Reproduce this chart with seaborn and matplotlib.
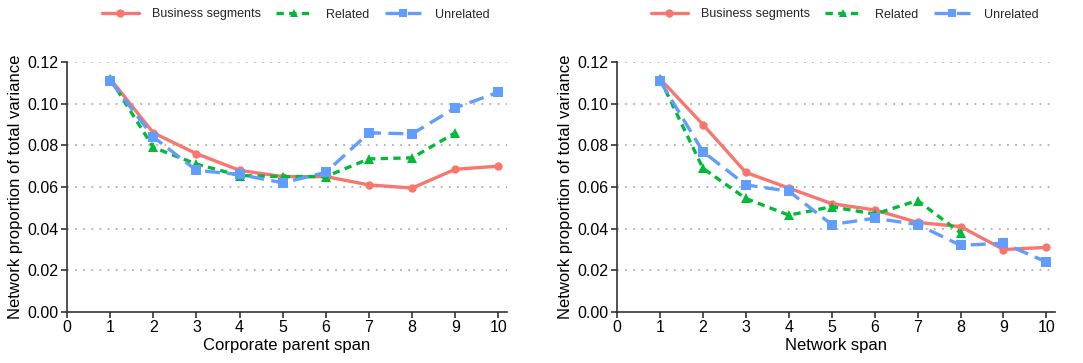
import numpy as np
import pandas as pd
import matplotlib
matplotlib.use("Agg")
import matplotlib.pyplot as plt
import seaborn as sns

span = [1, 2, 3, 4, 5, 6, 7, 8, 9, 10]

corp_business = [0.112, 0.086, 0.076, 0.068, 0.065, 0.065, 0.061, 0.0595, 0.0685, 0.070]
corp_related = [0.112, 0.079, 0.071, 0.0655, 0.065, 0.065, 0.0735, 0.074, 0.086, None]
corp_unrelated = [0.111, 0.084, 0.068, 0.066, 0.062, 0.067, 0.086, 0.0855, 0.098, 0.1055]

net_business = [0.112, 0.090, 0.067, 0.0595, 0.052, 0.049, 0.043, 0.041, 0.030, 0.031]
net_related = [0.112, 0.069, 0.0545, 0.0465, 0.0505, 0.047, 0.0535, 0.038, None, None]
net_unrelated = [0.111, 0.077, 0.061, 0.058, 0.042, 0.045, 0.042, 0.032, 0.033, 0.024]

series_names = ["Business segments", "Related", "Unrelated"]
y_ticks = [0.00, 0.02, 0.04, 0.06, 0.08, 0.10, 0.12]
x_ticks = [0, 1, 2, 3, 4, 5, 6, 7, 8, 9, 10]
x_labels = ["Corporate parent span", "Network span"]
y_label = "Network proportion of total variance"


def long_frame(b, r, u):
    rows = []
    for name, vals in zip(series_names, [b, r, u]):
        for x, v in zip(span, vals):
            if v is not None:
                rows.append({"span": x, "value": v, "series": name})
    return pd.DataFrame(rows)


sns.set_theme(style="white")
plt.rcParams["font.family"] = ["Liberation Sans", "DejaVu Sans"]

palette = {"Business segments": "#F8766D", "Related": "#00BA38", "Unrelated": "#619CFF"}
markers = {"Business segments": "o", "Related": "^", "Unrelated": "s"}
dashes = {"Business segments": "", "Related": (2.2, 1.6), "Unrelated": (4.5, 2.2)}
msizes = {"Business segments": 6, "Related": 7.5, "Unrelated": 7}

fig = plt.figure(figsize=(10.83, 3.63), dpi=100)
ax1 = fig.add_axes([67 / 1083, 1 - 312 / 363, 440 / 1083, 250 / 363])
ax2 = fig.add_axes([617 / 1083, 1 - 312 / 363, 438 / 1083, 250 / 363])

frames = [long_frame(corp_business, corp_related, corp_unrelated),
          long_frame(net_business, net_related, net_unrelated)]

for ax, df, xl in zip([ax1, ax2], frames, x_labels):
    for yt in y_ticks[1:]:
        ax.axhline(yt, color="#b0b0b0", lw=1.3, ls=(0, (1, 3.5)), zorder=0)
    sns.lineplot(data=df, x="span", y="value", hue="series", style="series",
                 palette=palette, markers=markers, dashes=dashes,
                 hue_order=series_names, style_order=series_names,
                 linewidth=2.4, markeredgewidth=0, ax=ax, legend=True)
    for line, name in zip(ax.get_lines()[len(y_ticks) - 1:], series_names):
        line.set_markersize(msizes[name])
    ax.set_xlim(0, 10.2)
    ax.set_ylim(0, 0.12)
    ax.set_xticks(x_ticks)
    ax.set_yticks(y_ticks)
    ax.set_yticklabels([f"{v:.2f}" for v in y_ticks])
    ax.set_xlabel(xl, fontsize=12, color="black", labelpad=2)
    ax.set_ylabel(y_label, fontsize=12, color="black", labelpad=3)
    ax.tick_params(axis="both", which="both", direction="out", length=4, width=1.2,
                   colors="#333333", labelsize=11.5, labelcolor="black", pad=2,
                   bottom=True, left=True)
    for s in ["top", "right"]:
        ax.spines[s].set_visible(False)
    for s in ["left", "bottom"]:
        ax.spines[s].set_color("#333333")
        ax.spines[s].set_linewidth(1.2)
    handles, labels = ax.get_legend_handles_labels()
    for h in handles:
        try:
            h.set_markeredgewidth(0)
        except Exception:
            pass
    ax.legend(handles, labels, loc="center", bbox_to_anchor=(0.52, 1.19), ncol=3,
              frameon=False, fontsize=9, handlelength=2.9, columnspacing=1.2,
              handletextpad=1.1)

fig.savefig("out.png", dpi=100)
